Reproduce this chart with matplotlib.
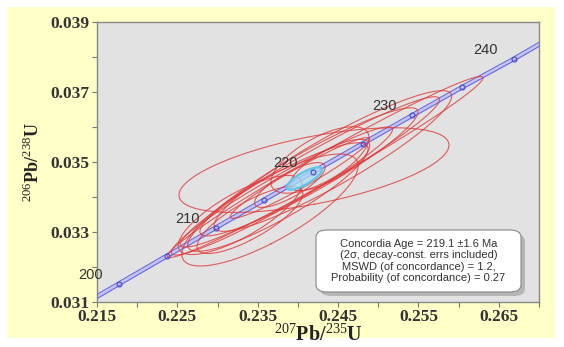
import numpy as np
import matplotlib.pyplot as plt
from matplotlib.patches import FancyBboxPatch, Rectangle

plt.rcParams['mathtext.fontset'] = 'custom'
plt.rcParams['mathtext.rm'] = 'Liberation Serif'
plt.rcParams['mathtext.bf'] = 'Liberation Serif:bold'

# concordia points (Ma) and their ratios
conc_age = [195, 200, 205, 210, 215, 220, 225, 230, 235, 240, 245]
conc_x = [0.21173, 0.21771, 0.22372, 0.22976, 0.23583, 0.24193, 0.24806, 0.25422, 0.26041, 0.26684, 0.27289]
conc_y = [0.030711, 0.031511, 0.032312, 0.033113, 0.033914, 0.034716, 0.035519, 0.036323, 0.037127, 0.037932, 0.038737]
label_ages = [200, 210, 220, 230, 240]

# analyses: 207Pb/235U, 2s, 206Pb/238U, 2s, rho
pb207 = [0.2420, 0.2434, 0.24435, 0.24149, 0.24137, 0.2380, 0.23751, 0.24274,
         0.23652, 0.23279, 0.24398, 0.2390, 0.23403, 0.24025]
err207 = [0.0168, 0.01964, 0.01478, 0.01614, 0.01357, 0.01377, 0.01122, 0.0061,
          0.01097, 0.00769, 0.00495, 0.00439, 0.00658, 0.00867]
pb206 = [0.03476, 0.03485, 0.03502, 0.034706, 0.03471, 0.034163, 0.03399, 0.03505,
         0.03362, 0.033477, 0.034906, 0.034334, 0.033334, 0.034534]
err206 = [0.00121, 0.002586, 0.00201, 0.00215, 0.00183, 0.00183, 0.00155, 0.00095,
          0.0016, 0.00113, 0.000734, 0.00064, 0.000957, 0.001154]
rho = [0.59, 0.984, 0.92, 0.962, 0.933, 0.959, 0.886, 0.67,
       0.79, 0.777, 0.756, 0.79, 0.79, 0.96]

# concordia age ellipse
cage = dict(x=0.2408, sx=0.00219, y=0.03452, sy=0.00032, rho=0.79)


def ellipse_xy(x, sx, y, sy, r, n=240):
    cov = np.array([[sx * sx, r * sx * sy], [r * sx * sy, sy * sy]])
    vals, vecs = np.linalg.eigh(cov)
    t = np.linspace(0, 2 * np.pi, n)
    circ = np.vstack([np.cos(t), np.sin(t)])
    pts = vecs @ (np.sqrt(np.maximum(vals, 0))[:, None] * circ)
    return x + pts[0], y + pts[1]


fig = plt.figure(figsize=(5.64, 3.47), dpi=100)
fig.patches.append(Rectangle((7 / 564, 9 / 347), 548 / 564, 331 / 347,
                             transform=fig.transFigure, facecolor='#FFFFC8',
                             edgecolor='none', zorder=-5))
ax = fig.add_axes([97 / 564, 45.3 / 347, 442 / 564, 280 / 347])
ax.set_facecolor('#E2E2E2')

# concordia band (decay-constant envelope)
cx = np.array(conc_x)
cy = np.array(conc_y)
ax.fill_betweenx(cy, cx - 0.00045, cx + 0.00045, color='#C4C4F2', lw=0, zorder=2)
ax.plot(cx - 0.00045, cy, color='#6A6AE6', lw=0.8, zorder=3)
ax.plot(cx + 0.00045, cy, color='#6A6AE6', lw=0.8, zorder=3)

# error ellipses
for i in range(len(pb207)):
    ex, ey = ellipse_xy(pb207[i], err207[i], pb206[i], err206[i], rho[i])
    ax.plot(ex, ey, color='#E03838', lw=0.8, alpha=0.8, zorder=4)

ex, ey = ellipse_xy(cage['x'], cage['sx'], cage['y'], cage['sy'], cage['rho'])
ax.fill(ex, ey, color='#A8E0F2', alpha=0.7, zorder=5)
ax.plot(ex, ey, color='#60C4EA', lw=1.6, zorder=5)

ax.plot(cx, cy, ls='none', marker='o', ms=3.5, mfc='none', mec='#5050D0', mew=0.9, zorder=6)

for a in label_ages:
    k = conc_age.index(a)
    ax.annotate(str(a), (conc_x[k], conc_y[k]), xytext=(-20, 6.5), textcoords='offset points',
                ha='center', va='center', fontsize=10.5, color='#333333',
                family='Liberation Sans', annotation_clip=False, zorder=7)

ax.set_xlim(0.215, 0.270)
ax.set_ylim(0.031, 0.039)
ax.set_xticks([0.215, 0.225, 0.235, 0.245, 0.255, 0.265])
ax.set_xticks(np.arange(0.220, 0.270, 0.01), minor=True)
ax.set_yticks([0.031, 0.033, 0.035, 0.037, 0.039])
ax.set_yticks([0.032, 0.034, 0.036, 0.038], minor=True)
ax.set_xticklabels(['%.3f' % v for v in ax.get_xticks()])
ax.set_yticklabels(['%.3f' % v for v in ax.get_yticks()])
ax.tick_params(which='both', direction='out', color='#777777', length=3.5, width=0.8, pad=2)
for lab in ax.get_xticklabels() + ax.get_yticklabels():
    lab.set_family('Liberation Serif')
    lab.set_weight('bold')
    lab.set_fontsize(12.5)
    lab.set_color('#333333')
for sp in ax.spines.values():
    sp.set_color('#888888')
    sp.set_linewidth(1.0)

ax.set_xlabel(r'$^{207}$Pb/$^{235}$U', fontsize=14.5, family='Liberation Serif',
              weight='bold', color='#222222', labelpad=-1)
ax.set_ylabel(r'$^{206}$Pb/$^{238}$U', fontsize=13, family='Liberation Serif',
              weight='bold', color='#222222', labelpad=5)

# result box with shadow
bx, by, bw, bh = 316 / 564, (347 - 292) / 347, 205 / 564, 62 / 347
shadow = FancyBboxPatch((bx + 4 / 564, by - 4 / 347), bw, bh, boxstyle='round,pad=0,rounding_size=0.02',
                        transform=fig.transFigure, facecolor='#9A9A9A', edgecolor='none',
                        alpha=0.6, zorder=8)
box = FancyBboxPatch((bx, by), bw, bh, boxstyle='round,pad=0,rounding_size=0.02',
                     transform=fig.transFigure, facecolor='white', edgecolor='#888888',
                     lw=0.8, zorder=9)
fig.patches.extend([shadow, box])
fig.text(bx + bw / 2, by + bh / 2,
         'Concordia Age = 219.1 \u00b11.6 Ma\n(2\u03c3, decay-const. errs included)\n'
         'MSWD (of concordance) = 1.2,\nProbability (of concordance) = 0.27',
         ha='center', va='center', fontsize=8, family='Liberation Sans', color='#333333',
         linespacing=1.15, zorder=10)

fig.savefig('out.png', dpi=100, facecolor='white')
